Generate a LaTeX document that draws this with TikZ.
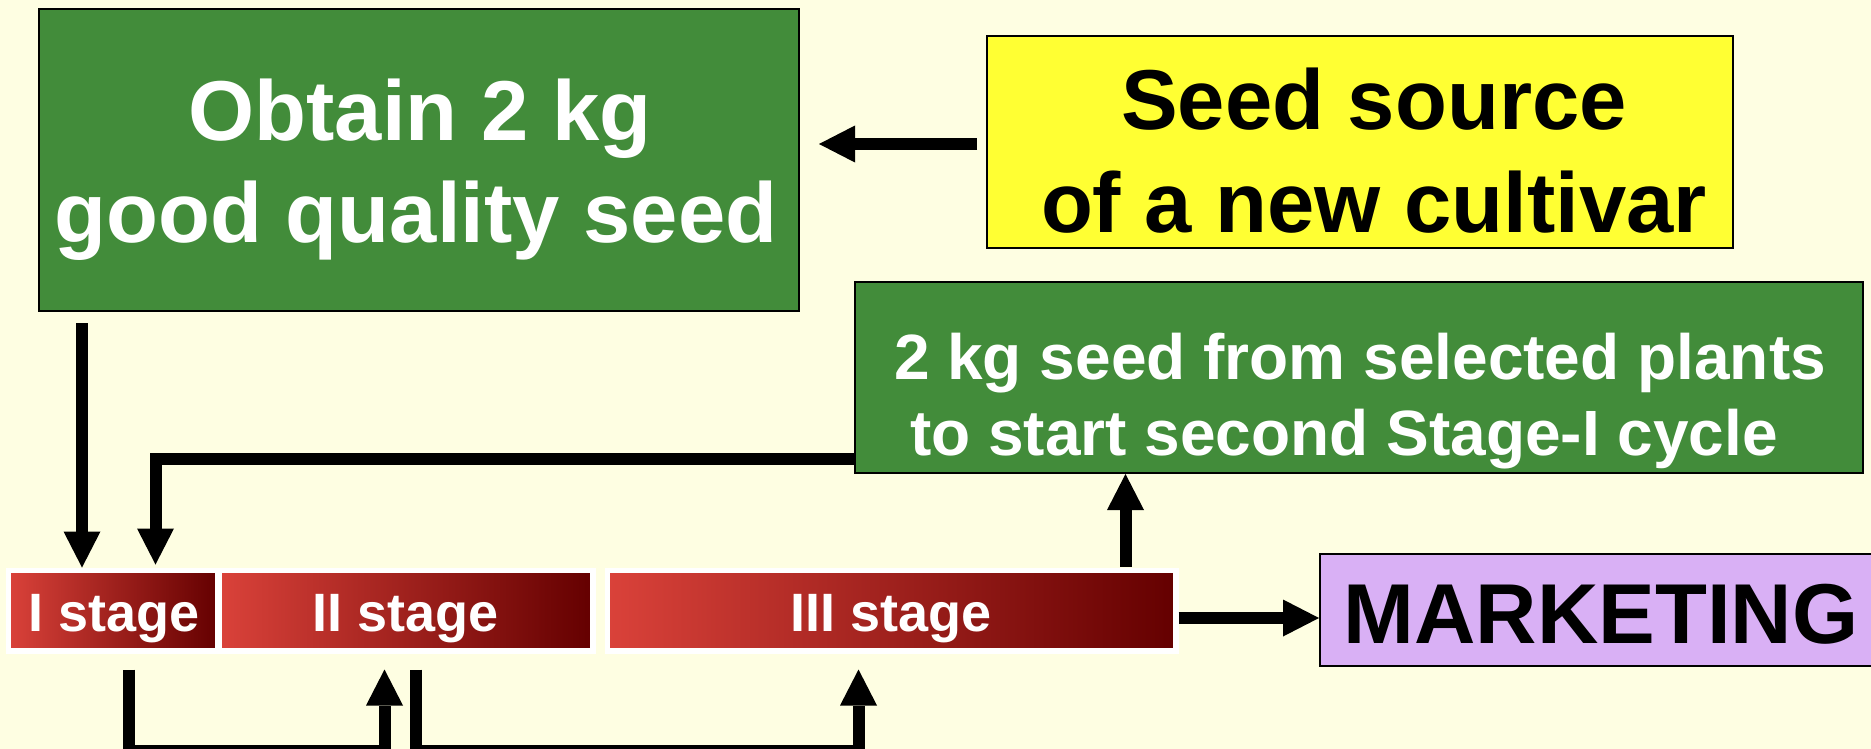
\documentclass[tikz,border=0pt]{standalone}
\usepackage{fontspec}
\setmainfont{Liberation Sans}
\usetikzlibrary{arrows.meta,calc}
\definecolor{bg}{RGB}{254,254,226}
\definecolor{grn}{RGB}{66,140,58}
\definecolor{ylw}{RGB}{255,255,51}
\definecolor{lav}{RGB}{217,176,245}
\definecolor{redL}{RGB}{218,66,58}
\definecolor{redR}{RGB}{100,0,0}
\newcommand{\bigfont}{\fontsize{85}{100}\selectfont\bfseries}
\newcommand{\midfont}{\fontsize{64}{75}\selectfont\bfseries}
\newcommand{\stgfont}{\fontsize{54}{60}\selectfont\bfseries}
\begin{document}
\begin{tikzpicture}[x=1pt,y=-1pt,
  box/.style={draw=black, line width=2pt, rectangle, inner sep=0pt},
  lbl/.style={anchor=base, inner sep=0pt},
  stg/.style={draw=white, line width=5.5pt, left color=redL, right color=redR, rectangle, inner sep=0pt, minimum height=80.5pt},
  arr/.style={line width=12pt, line join=miter, -{Triangle[length=36pt,width=37pt,line width=0pt]}}
]
\path[use as bounding box, fill=bg] (0,0) rectangle (1871,749);
\clip (0,0) rectangle (1871,749);

% boxes
\node[box, fill=grn, minimum width=760pt, minimum height=302pt] (obtain) at (419,160) {};
\node[box, fill=ylw, minimum width=746pt, minimum height=212pt] (source) at (1360,142) {};
\node[box, fill=grn, minimum width=1008pt, minimum height=191pt] (select) at (1359,377.5) {};
\node[box, fill=lav, minimum width=580pt, minimum height=112pt] (market) at (1610,610) {};
\node[stg, minimum width=209.5pt] (stI) at (113,610.5) {};
\node[stg, minimum width=373.5pt] (stII) at (406,610.5) {};
\node[stg, minimum width=568.5pt] (stIII) at (891.5,610.5) {};

% texts
\node[lbl, text=white, font=\bigfont] (obtainA) at (420,141) {Obtain 2 kg};
\node[lbl, text=white, font=\bigfont] (obtainB) at (416,242) {good quality seed};
\node[lbl, text=black, font=\bigfont] (sourceA) at (1374,130) {Seed source};
\node[lbl, text=black, font=\bigfont] (sourceB) at (1374,232) {of a new cultivar};
\node[lbl, text=white, font=\midfont] (selectA) at (1360,379) {2 kg seed from selected plants};
\node[lbl, text=white, font=\midfont] (selectB) at (1344,455) {to start second Stage-I cycle};
\node[lbl, text=black, font=\bigfont] (marketT) at (1601,643) {MARKETING};
\node[lbl, text=white, font=\stgfont] (stIt) at (114,631) {I stage};
\node[lbl, text=white, font=\stgfont] (stIIt) at (405.5,631) {II stage};
\node[lbl, text=white, font=\stgfont] (stIIIt) at (891.5,631) {III stage};

% connectors
\draw[arr] ($(source.west)+(-9,2)$) -- ($(obtain.east)+(19,-16)$);

\coordinate (o1) at ($(obtain.south west)+(44,11)$);
\draw[arr] (o1) -- (o1 |- stI.north);

\coordinate (s1) at ($(select.south west)+(0,-15)$);
\coordinate (s1end) at ($(stI.north west)+(150,-3)$);
\draw[arr] (s1) -| (s1end);

\coordinate (u3) at ($(stIII.north west)+(521,-1)$);
\draw[arr] (u3) -- (u3 |- select.south);

\coordinate (m3) at ($(stIII.east)+(0,7.5)$);
\draw[arr] (m3) -- (m3 -| market.west);

\coordinate (b1) at ($(stI.south west)+(123,16)$);
\coordinate (b2) at ($(stII.south west)+(168,16)$);
\draw[arr] (b1) -- ++(0,81) -| (b2);

\coordinate (b3) at ($(stII.south west)+(199,16)$);
\coordinate (b4) at ($(stIII.south west)+(254,16)$);
\draw[arr] (b3) -- ++(0,81) -| (b4);
\end{tikzpicture}
\end{document}
